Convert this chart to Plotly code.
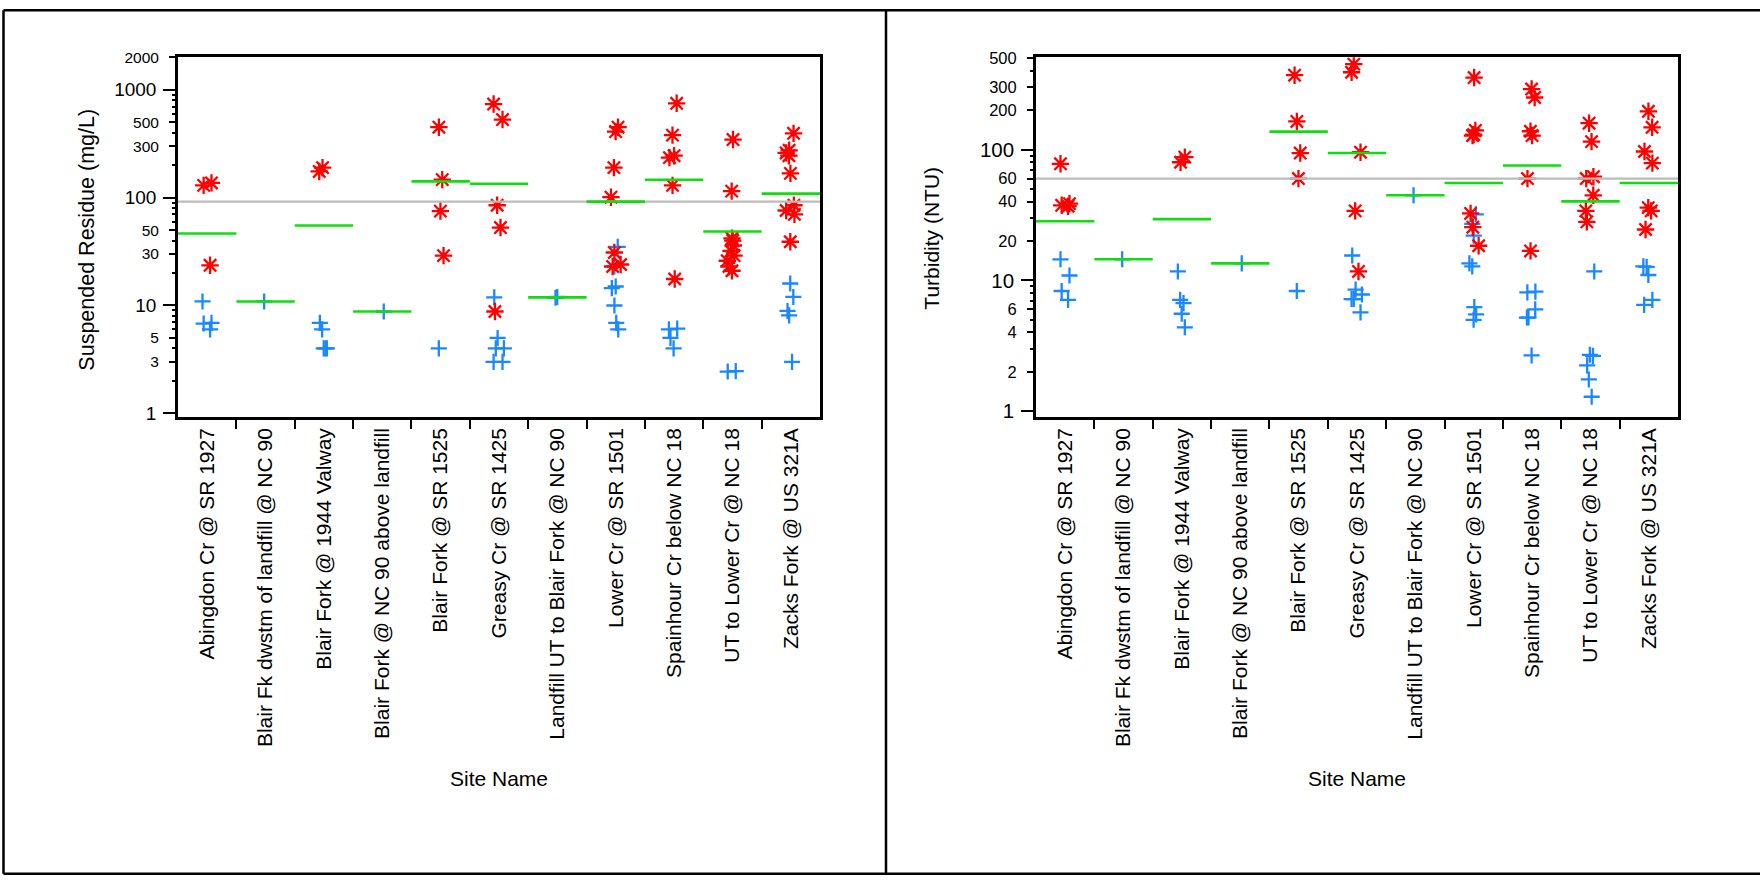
import plotly.graph_objects as go

# ---------------- data ----------------
sites = [
    "Abingdon Cr @ SR 1927",
    "Blair Fk dwstm of landfill @ NC 90",
    "Blair Fork @ 1944 Valway",
    "Blair Fork @ NC 90 above landfill",
    "Blair Fork @ SR 1525",
    "Greasy Cr @ SR 1425",
    "Landfill UT to Blair Fork @ NC 90",
    "Lower Cr @ SR 1501",
    "Spainhour Cr below NC 18",
    "UT to Lower Cr @ NC 18",
    "Zacks Fork @ US 321A",
]

# Suspended residue (mg/L): red asterisks, blue plus signs, green mean
ssr_star = [
    [137, 130, 23.6],
    [],
    [190, 175],
    [],
    [450, 147, 75, 29],
    [738, 530, 85, 52.8, 8.8],
    [],
    [450, 410, 190, 101, 31, 24, 23],
    [750, 380, 245, 235, 130, 17.6],
    [346, 115, 42, 40, 36, 32, 29, 26, 23, 21],
    [395, 275, 260, 245, 168, 85, 76, 70, 39],
]
ssr_plus = [
    [10.9, 6.9, 6.8, 6.0],
    [10.9],
    [6.9, 6.0, 4.0, 4.0, 4.0],
    [8.8],
    [4.0],
    [11.9, 5.0, 4.0, 4.0, 3.0, 3.0],
    [12.0, 11.8],
    [35, 23, 15, 14.5, 10, 6.9, 6.0],
    [6.1, 6.0, 5.0, 4.0],
    [2.46, 2.44],
    [16, 12, 8.9, 8.1, 3.0],
]
ssr_mean = [46.5, 10.9, 55.2, 8.8, 141.7, 134.7, 11.9, 91.9, 146.6, 48.5, 109]
ssr_ref = 92

# Turbidity (NTU)
turb_star = [
    [77.8, 38.6, 37.5, 36.9],
    [],
    [87.5, 80],
    [],
    [370, 164, 94, 60],
    [450, 390, 95.5, 34, 11.7],
    [],
    [355, 140, 130, 128, 32.5, 25.5, 18.4],
    [290, 250, 138, 128, 60, 16.8],
    [159, 115, 62, 60, 44.7, 34, 28],
    [196, 148, 96.6, 78.8, 36, 34, 24.5],
]
turb_plus = [
    [14.5, 10.9, 8.3, 7.1],
    [14.5],
    [11.7, 7.1, 6.7, 5.56, 4.38],
    [13.5],
    [8.3],
    [15.5, 8.5, 7.8, 7.2, 7.2, 5.7],
    [44.7],
    [32, 27, 22, 13.5, 12.8, 6.25, 5.5, 5.0],
    [8.2, 8.1, 6.0, 5.2, 5.2, 2.67],
    [11.7, 2.7, 2.65, 2.24, 1.75, 1.29],
    [12.8, 12.7, 11.0, 7.1, 6.5],
]
turb_mean = [28.3, 14.5, 29.4, 13.5, 137, 94, 44.7, 55.5, 75.6, 40.2, 55.5]
turb_ref = 60

ssr_major_ticks = [1, 10, 100, 1000]
ssr_minor_labeled = [3, 5, 30, 50, 300, 500, 2000]
ssr_unlabeled = [2, 4, 6, 7, 8, 9, 20, 40, 60, 70, 80, 90, 200, 400, 600, 700, 800, 900]
turb_major_ticks = [1, 10, 100]
turb_minor_labeled = [2, 4, 6, 20, 40, 60, 200, 300, 500]
turb_unlabeled = [3, 5, 7, 8, 9, 30, 50, 70, 80, 90, 400]

# ---------------- styling ----------------
W, H = 1760, 882
FONT = "Liberation Sans, Arial, sans-serif"
RED = "#FF0000"
BLUE = "#1A88FF"
GREEN = "#10DD10"
GRAY = "#BBBBBB"


def py(y):
    """target pixel row -> layout pixel row (compensates the photo's vertical fit)"""
    return (y - 6.5) / 0.9855


def pfy(y):
    return 1 - py(y) / H


fig = go.Figure()


def flatten(groups):
    xs, ys = [], []
    for i, vals in enumerate(groups):
        for v in vals:
            xs.append(i)
            ys.append(v)
    return xs, ys


def add_panel(star, plus, means, ref, xa, ya, ya_over):
    n = len(sites)
    fig.add_trace(go.Scatter(x=[-0.5, n - 0.5], y=[ref, ref], mode="lines",
                             line=dict(color=GRAY, width=2.2),
                             xaxis=xa, yaxis=ya, hoverinfo="skip", showlegend=False))
    mx, my = [], []
    for i, m in enumerate(means):
        mx += [i - 0.5, i + 0.5, None]
        my += [m, m, None]
    fig.add_trace(go.Scatter(x=mx, y=my, mode="lines",
                             line=dict(color=GREEN, width=2.6),
                             xaxis=xa, yaxis=ya, hoverinfo="skip", showlegend=False))
    for groups, sym, col, size in ((plus, "cross-thin", BLUE, 11.5), (star, "asterisk", RED, 14.5)):
        xs, ys = flatten(groups)
        fig.add_trace(go.Box(
            x=xs, y=ys, boxpoints="all", jitter=0.38, pointpos=0, width=0.5,
            fillcolor="rgba(0,0,0,0)", line=dict(color="rgba(0,0,0,0)", width=0),
            marker=dict(symbol=sym, size=size, color=col, line=dict(color=col, width=2.3)),
            xaxis=xa, yaxis=ya, showlegend=False, hoveron="points"))
    fig.add_trace(go.Scatter(x=[0], y=[1], mode="markers", marker=dict(opacity=0),
                             xaxis=xa, yaxis=ya_over, hoverinfo="skip", showlegend=False))


add_panel(ssr_star, ssr_plus, ssr_mean, ssr_ref, "x", "y", "y3")
add_panel(turb_star, turb_plus, turb_mean, turb_ref, "x2", "y2", "y4")

n = len(sites)
boundaries = [i + 0.5 for i in range(n - 1)]


def xaxis_cfg(domain, anchor):
    return dict(domain=domain, anchor=anchor, range=[-0.5, n - 0.5],
                tickmode="array", tickvals=list(range(n)), ticktext=sites,
                tickangle=-90, tickfont=dict(family=FONT, size=21, color="black"),
                ticks="outside", ticklen=0, tickcolor="black",
                minor=dict(tickmode="array", tickvals=boundaries, ticks="outside",
                           ticklen=9, tickwidth=2, tickcolor="black"),
                showline=True, linecolor="black", linewidth=2.5, mirror=True,
                showgrid=False, zeroline=False)


def yaxis_cfg(domain, anchor, rng, major, fsize):
    return dict(domain=domain, anchor=anchor, type="log", range=rng,
                tickmode="array", tickvals=major, ticktext=[str(v) for v in major],
                tickfont=dict(family=FONT, size=fsize, color="black"),
                ticks="outside", ticklen=12, tickwidth=2, tickcolor="black",
                ticklabelstandoff=3,
                showline=True, linecolor="black", linewidth=2.5, mirror=True,
                showgrid=False, zeroline=False)


def yover_cfg(over, anchor, rng, labeled, unlabeled, fsize):
    return dict(overlaying=over, anchor=anchor, side="left", type="log", range=rng,
                tickmode="array", tickvals=labeled, ticktext=[str(v) for v in labeled],
                tickfont=dict(family=FONT, size=fsize, color="black"),
                ticks="outside", ticklen=8, tickwidth=2, tickcolor="black",
                ticklabelstandoff=7,
                minor=dict(tickmode="array", tickvals=unlabeled, ticks="outside",
                           ticklen=5, tickwidth=1.5, tickcolor="black"),
                showline=False, showgrid=False, zeroline=False)


ydom = [pfy(416), pfy(55)]
left_x = [178 / W, 820 / W]
right_x = [1036 / W, 1678 / W]
ssr_range = [-0.034, 3.3015]
turb_range = [-0.044, 2.705]

fig.update_layout(
    width=W, height=H, margin=dict(l=0, r=0, t=0, b=0),
    paper_bgcolor="white", plot_bgcolor="white", showlegend=False,
    boxmode="overlay",
    xaxis=xaxis_cfg(left_x, "y"),
    yaxis=yaxis_cfg(ydom, "x", ssr_range, ssr_major_ticks, 19),
    yaxis3=yover_cfg("y", "x", ssr_range, ssr_minor_labeled, ssr_unlabeled, 15.5),
    xaxis2=xaxis_cfg(right_x, "y2"),
    yaxis2=yaxis_cfg(ydom, "x2", turb_range, turb_major_ticks, 20.5),
    yaxis4=yover_cfg("y2", "x2", turb_range, turb_minor_labeled, turb_unlabeled, 16.5),
)

title_font = dict(family=FONT, size=21, color="black")
fig.add_annotation(text="Site Name", xref="x domain", yref="paper", x=0.5, y=pfy(779),
                   showarrow=False, font=title_font, xanchor="center", yanchor="middle")
fig.add_annotation(text="Site Name", xref="x2 domain", yref="paper", x=0.5, y=pfy(779),
                   showarrow=False, font=title_font, xanchor="center", yanchor="middle")
fig.add_annotation(text="Suspended Residue (mg/L)", xref="paper", yref="paper",
                   x=87 / W, y=pfy(238), textangle=-90, showarrow=False,
                   font=dict(family=FONT, size=21.5, color="black"),
                   xanchor="center", yanchor="middle")
fig.add_annotation(text="Turbidity (NTU)", xref="paper", yref="paper",
                   x=932 / W, y=pfy(237), textangle=-90, showarrow=False, font=title_font,
                   xanchor="center", yanchor="middle")

# outer frame and divider (paper pixel rows)
frame = dict(color="black", width=2.5)
top_row, bottom_row = 1.25, 880.75
for x0, y0, x1, y1 in [(3.5, top_row, 3.5, bottom_row), (3.5, top_row, 1760, top_row),
                       (3.5, bottom_row, 1760, bottom_row), (886, top_row, 886, bottom_row)]:
    fig.add_shape(type="line", xref="paper", yref="paper",
                  x0=x0 / W, x1=x1 / W, y0=1 - y0 / H, y1=1 - y1 / H, line=frame)

pin_js = (
    "document.documentElement.style.margin='0px';"
    "document.body.style.margin='0px';"
    "document.body.style.overflow='hidden';"
    "var gd=document.getElementById('{plot_id}');"
    "gd.style.position='fixed';gd.style.top='0px';gd.style.left='0px';"
)
fig.write_html("out.html", config={"displayModeBar": False}, post_script=pin_js)
